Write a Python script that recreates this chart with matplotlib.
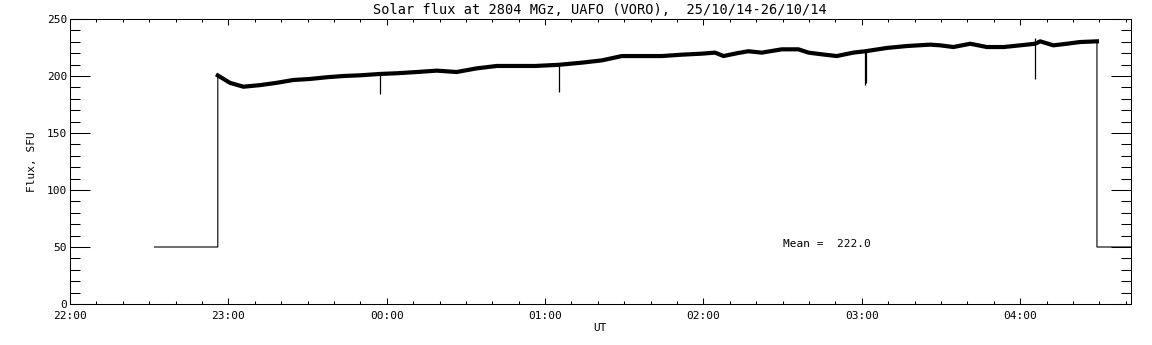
import matplotlib
matplotlib.use('Agg')
import matplotlib.pyplot as plt
from matplotlib.ticker import MultipleLocator, FixedLocator


# Times are minutes after 22:00 UT, flux in SFU.
flux_min = [56, 60.6, 65.7, 72, 78.3, 84.6, 90.9, 97.3, 103.6, 109.9,
            117.5, 123.8, 131.4, 139, 146.5, 154.1, 161.7, 169.3, 176.2, 185.1,
            193.9, 201.5, 209.1, 216.6, 224.2, 231.8, 239.4, 244.4, 247.6, 253.2,
            257, 262.1, 269.7, 276, 279.8, 284.9, 290.5, 296.8, 301.3, 309.5,
            317.1, 325.9, 329.7, 334.7, 341.1, 347.4, 353.7, 360, 365.7, 367.6,
            372.6, 377.7, 382.7, 389.1]
flux_sfu = [200.5, 194, 190.6, 192, 194, 196.5, 197.4, 198.9, 200, 200.6,
            201.8, 202.4, 203.5, 204.7, 203.5, 206.7, 208.8, 208.8, 208.8, 209.8,
            211.7, 213.7, 217.5, 217.5, 217.5, 218.7, 219.6, 220.5, 217.5, 220.2,
            221.7, 220.5, 223.4, 223.4, 220.5, 219, 217.5, 220.5, 221.7, 224.6,
            226.3, 227.5, 226.9, 225.4, 228.3, 225.4, 225.4, 226.9, 228.3, 230.4,
            226.9, 228.3, 229.8, 230.4]

# short dropouts / spikes
spike_min = [117.5, 185.1, 301.3, 301.6, 365.7]
spike_lo = [184, 186, 192, 194, 197]
spike_hi = [201.8, 210.5, 221.7, 221.7, 233.6]

# calibration level before and after the session
base_sfu = 50
base_before = [32, 56]
base_after = [389.1, 430]

hour_ticks = [0, 60, 120, 180, 240, 300, 360]
hour_labels = ['22:00', '23:00', '00:00', '01:00', '02:00', '03:00', '04:00']
mean_sfu = 222.0

font = 'DejaVu Sans Mono'
plt.rcParams['font.family'] = [font, 'DejaVu Sans']

fig = plt.figure(figsize=(11.52, 3.45), dpi=100)
ax = fig.add_axes([70 / 1152, 41 / 345, 1061 / 1152, 285 / 345])

# thin trace: calibration steps, edges and spikes
t_all = base_before + flux_min + base_after
v_all = [base_sfu, base_sfu] + flux_sfu + [base_sfu, base_sfu]
ax.plot(t_all, v_all, color='black', lw=0.8)
ax.vlines(spike_min, spike_lo, spike_hi, color='black', lw=0.9)
# noisy flux band drawn thicker
ax.plot(flux_min, flux_sfu, color='black', lw=3.0, solid_joinstyle='round')

ax.set_xlim(0, 402)
ax.set_ylim(0, 250)

ax.xaxis.set_major_locator(FixedLocator(hour_ticks))
ax.set_xticklabels(hour_labels)
ax.xaxis.set_minor_locator(MultipleLocator(10))
ax.yaxis.set_major_locator(MultipleLocator(50))
ax.yaxis.set_minor_locator(MultipleLocator(10))

for sp in ax.spines.values():
    sp.set_linewidth(0.75)

ax.tick_params(axis='x', which='major', direction='in', length=4.3, width=0.75,
               top=True, bottom=True, pad=5, labelsize=8)
ax.tick_params(axis='x', which='minor', direction='in', length=2.2, width=0.75,
               top=True, bottom=True)
ax.tick_params(axis='y', which='major', direction='in', length=14.4, width=0.75,
               left=True, right=True, pad=2, labelsize=8)
ax.tick_params(axis='y', which='minor', direction='in', length=7.2, width=0.75,
               left=True, right=True)

ax.set_xlabel('UT', fontsize=8, va='center')
ax.xaxis.set_label_coords(0.5, -0.084)
ax.set_ylabel('Flux, SFU', fontsize=8, va='center')
ax.yaxis.set_label_coords(-0.036, 0.5)

ax.text(270, 52.6, 'Mean =  %.1f' % mean_sfu, fontsize=8, va='center', ha='left')

fig.text(600 / 1152, 1 - 10 / 345,
         'Solar flux at 2804 MGz, UAFO (VORO),  25/10/14-26/10/14',
         fontsize=9.8, ha='center', va='center')

fig.savefig('out.png', dpi=100, facecolor='white')
